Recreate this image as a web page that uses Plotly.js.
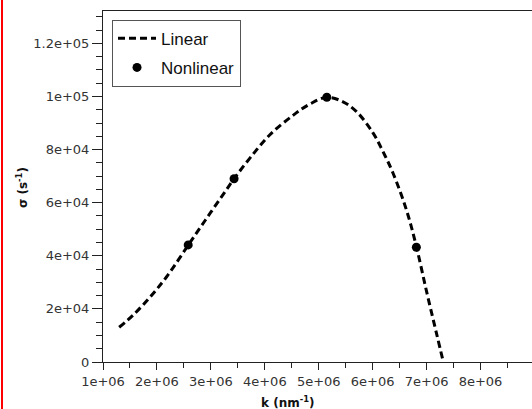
<!DOCTYPE html>
<html>
<head>
<meta charset="utf-8">
<script src="https://cdn.plot.ly/plotly-3.0.1.min.js"></script>
<style>
html,body{margin:0;padding:0;background:#fff;}
#wrap{position:relative;width:532px;height:409px;}
#edge{position:absolute;left:1px;top:0;width:2px;height:409px;background:#ff0000;z-index:5;}
#chart{width:532px;height:409px;}
</style>
</head>
<body>
<div id="wrap"><div id="edge"></div><div id="chart"></div></div>
<script>
// Linear curve (k in nm^-1, sigma in s^-1)
var linearK = [1.30e6,1.56e6,1.87e6,2.18e6,2.58e6,2.89e6,3.20e6,3.43e6,3.72e6,4.09e6,4.53e6,4.84e6,5.15e6,5.45e6,5.70e6,6.00e6,6.19e6,6.38e6,6.63e6,6.81e6,7.00e6,7.19e6,7.31e6];
var linearSigma = [13.1e3,17.7e3,24.4e3,32.1e3,44.0e3,53.2e3,62.3e3,69.0e3,76.7e3,85.5e3,93.0e3,97.2e3,99.7e3,98.0e3,94.3e3,86.5e3,79.3e3,71.0e3,57.0e3,43.5e3,26.5e3,10.2e3,0];
// Nonlinear points
var nonlinK = [2.58e6,3.43e6,5.15e6,6.81e6];
var nonlinSigma = [44.1e3,69.0e3,99.7e3,43.2e3];
// Tick labels
var xTickVals = [1e6,2e6,3e6,4e6,5e6,6e6,7e6,8e6];
var xTickText = ["1e+06","2e+06","3e+06","4e+06","5e+06","6e+06","7e+06","8e+06"];
var yTickVals = [0,2e4,4e4,6e4,8e4,1e5,1.2e5];
var yTickText = ["0","2e+04","4e+04","6e+04","8e+04","1e+05","1.2e+05"];

var traces = [
  {x: linearK, y: linearSigma, type:'scatter', mode:'lines', name:'Linear', legendgroup:'a',
   line:{color:'#000', width:3, dash:'7px,4px', shape:'spline', smoothing:1}},
  {x: nonlinK, y: nonlinSigma, type:'scatter', mode:'markers', name:'Nonlinear', legendgroup:'b',
   marker:{color:'#000', size:9}}
];
var tickFont = {family:'DejaVu Sans', size:13, color:'#333'};
var layout = {
  width:532, height:409,
  margin:{l:103, r:0, t:11, b:47},
  paper_bgcolor:'#fff', plot_bgcolor:'#fff',
  showlegend:true,
  legend:{x:0.021, y:0.975, xanchor:'left', yanchor:'top', bordercolor:'#555', borderwidth:1,
          bgcolor:'#fff', font:{family:'Liberation Sans', size:17, color:'#111'}, itemwidth:38,
          tracegroupgap:4},
  xaxis:{range:[1e6, 8.954e6], tickvals:xTickVals, ticktext:xTickText, ticks:'outside', ticklen:7,
         tickcolor:'#222', tickwidth:1, showline:true, linecolor:'#222', linewidth:1, mirror:true,
         showgrid:false, zeroline:false, tickfont:tickFont,
         minor:{dtick:5e5, tick0:1e6, ticks:'outside', ticklen:5, tickcolor:'#222', showgrid:false}},
  yaxis:{range:[0, 1.322e5], tickvals:yTickVals, ticktext:yTickText, ticks:'outside', ticklen:10,
         tickcolor:'#222', tickwidth:1, showline:true, linecolor:'#222', linewidth:1, mirror:false,
         showgrid:false, zeroline:false, tickfont:tickFont,
         minor:{dtick:5e3, tick0:0, ticks:'outside', ticklen:6, tickcolor:'#222', showgrid:false}},
  annotations:[
    {text:'<b>k (nm<sup>-1</sup>)</b>', xref:'paper', yref:'paper', x:0.431, y:-0.113, xanchor:'center', yanchor:'middle',
     showarrow:false, font:{family:'DejaVu Sans', size:12, color:'#111'}},
    {text:'<b>σ (s<sup>-1</sup>)</b>', xref:'paper', yref:'paper', x:-0.19, y:0.497, xanchor:'center', yanchor:'middle',
     textangle:-90, showarrow:false, font:{family:'DejaVu Sans', size:12, color:'#111'}}
  ]
};
Plotly.newPlot('chart', traces, layout, {displayModeBar:false, staticPlot:true});
</script>
</body>
</html>
